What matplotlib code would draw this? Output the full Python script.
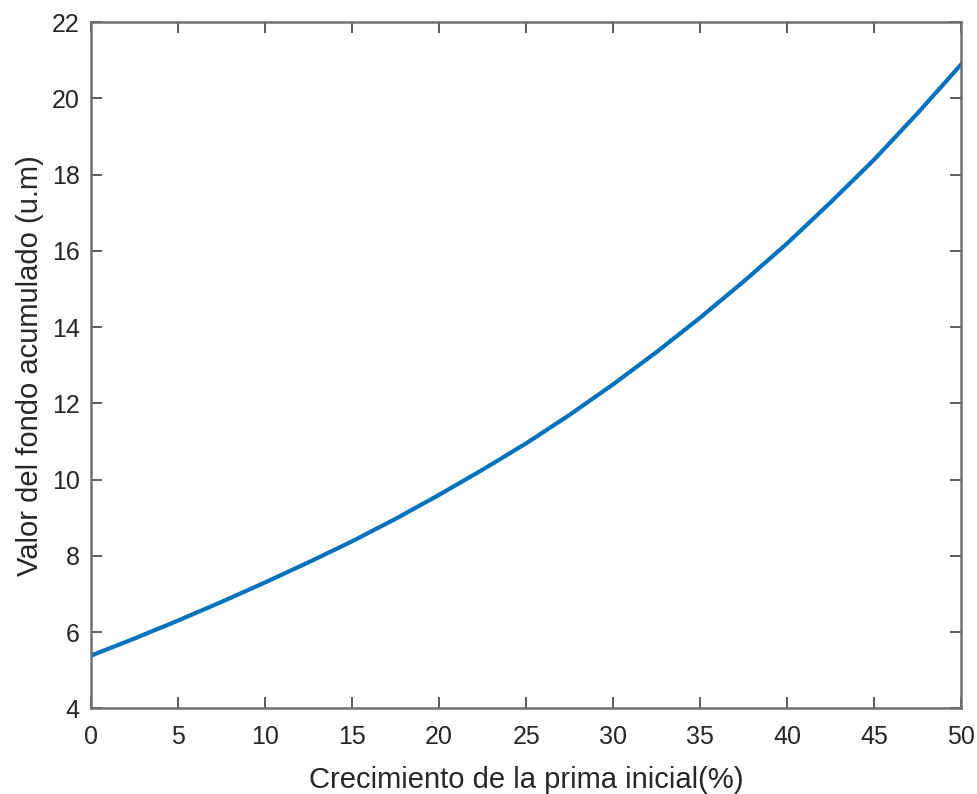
import matplotlib
matplotlib.use("Agg")
import matplotlib.pyplot as plt

# growth of initial premium (%) vs accumulated fund value (u.m)
crecimiento = [0, 2.5, 5, 7.5, 10, 12.5, 15, 17.5, 20, 22.5, 25,
               27.5, 30, 32.5, 35, 37.5, 40, 42.5, 45, 47.5, 50]
fondo = [5.38, 5.83, 6.30, 6.79, 7.30, 7.83, 8.38, 8.97, 9.60, 10.26, 10.95,
         11.70, 12.50, 13.35, 14.25, 15.20, 16.20, 17.28, 18.40, 19.62, 20.90]

xticks = list(range(0, 51, 5))
yticks = list(range(4, 23, 2))

plt.rcParams['font.family'] = ['Liberation Sans', 'DejaVu Sans']

fig = plt.figure(figsize=(9.78, 7.94), dpi=100)
ax = fig.add_axes([0.093, 0.108, 0.890, 0.864])

ax.plot(crecimiento, fondo, color='#0072BD', linewidth=3.0)

ax.set_xlim(0, 50)
ax.set_ylim(4, 22)
ax.set_xticks(xticks)
ax.set_yticks(yticks)

axcol = '#707070'
for s in ax.spines.values():
    s.set_color(axcol)
    s.set_linewidth(1.8)
ax.tick_params(direction='in', length=8, width=1.2, color='#404040',
               top=True, right=True, labelsize=18, labelcolor='#262626')
ax.tick_params(axis='x', pad=12)
ax.tick_params(axis='y', pad=8)

ax.set_xlabel('Crecimiento de la prima inicial(%)', fontsize=21, color='#262626', labelpad=12)
ax.set_ylabel('Valor del fondo acumulado (u.m)', fontsize=21, color='#262626', labelpad=6)

fig.savefig('out.png', dpi=100, facecolor='white')
